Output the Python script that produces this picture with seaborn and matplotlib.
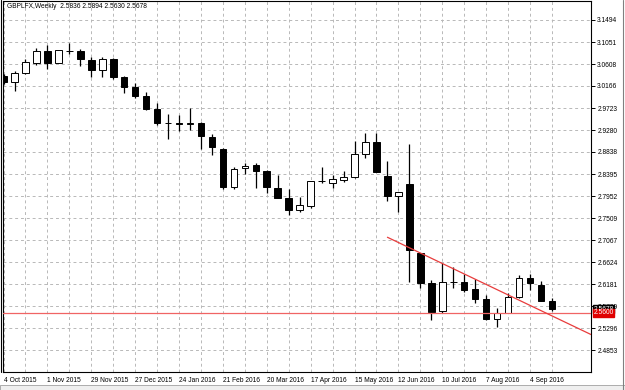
import matplotlib
matplotlib.use('Agg')
import matplotlib.pyplot as plt
import matplotlib.transforms as mtransforms
from matplotlib.patches import Rectangle
from matplotlib.lines import Line2D
import seaborn as sns
import pandas as pd
import numpy as np

symbol = 'GBPLFX,Weekly'
first_week = '2015-10-04'

opens = [3.0367, 3.0252, 3.0421, 3.0623, 3.0864, 3.0635, 3.0864, 3.0864, 3.0689, 3.0488,
         3.0703, 3.0341, 3.0152, 2.9965, 2.9703, 2.9415, 2.9415, 2.9407, 2.9415, 2.9146,
         2.8898, 2.8139, 2.8510, 2.8570, 2.8455, 2.8117, 2.7906, 2.7671, 2.7755, 2.8248,
         2.8208, 2.8274, 2.8329, 2.8791, 2.9035, 2.8361, 2.7958, 2.8188, 2.6811, 2.6196,
         2.5644, 2.6216, 2.6228, 2.6075, 2.5874, 2.5471, 2.5604, 2.5914, 2.6296, 2.6161, 2.5836]
highs = [3.0407, 3.0458, 3.0709, 3.0925, 3.0997, 3.0900, 3.1037, 3.0904, 3.0755, 3.0743,
         3.0723, 3.0373, 3.0220, 3.0035, 2.9824, 2.9598, 2.9582, 2.9729, 2.9447, 2.9200,
         2.8912, 2.8530, 2.8626, 2.8622, 2.8470, 2.8365, 2.8089, 2.7926, 2.8264, 2.8542,
         2.8375, 2.8465, 2.9059, 2.9220, 2.9220, 2.8657, 2.8027, 2.8993, 2.6811, 2.6262,
         2.6598, 2.6518, 2.6383, 2.6276, 2.5960, 2.5692, 2.5994, 2.6363, 2.6383, 2.6248, 2.5894]
lows = [3.0206, 3.0065, 3.0407, 3.0594, 3.0508, 3.0629, 3.0810, 3.0574, 3.0353, 3.0353,
        3.0307, 3.0031, 2.9930, 2.9679, 2.9381, 2.9093, 2.9254, 2.9289, 2.8902, 2.8777,
        2.8099, 2.8099, 2.8391, 2.8107, 2.8007, 2.7912, 2.7580, 2.7626, 2.7705, 2.8220,
        2.8123, 2.8224, 2.8309, 2.8723, 2.8429, 2.7852, 2.7630, 2.6212, 2.6101, 2.5457,
        2.5592, 2.6095, 2.6027, 2.5805, 2.5467, 2.5310, 2.5598, 2.5894, 2.6061, 2.5839, 2.5630]
closes = [3.0246, 3.0434, 3.0643, 3.0864, 3.0623, 3.0890, 3.0870, 3.0709, 3.0488, 3.0703,
          3.0341, 3.0152, 2.9965, 2.9709, 2.9415, 2.9421, 2.9407, 2.9415, 2.9160, 2.8932,
          2.8133, 2.8500, 2.8552, 2.8455, 2.8139, 2.7922, 2.7671, 2.7767, 2.8248, 2.8254,
          2.8288, 2.8329, 2.8791, 2.9035, 2.8441, 2.7952, 2.8023, 2.6860, 2.6208, 2.5624,
          2.6228, 2.6222, 2.6061, 2.5886, 2.5471, 2.5592, 2.5914, 2.6296, 2.6196, 2.5845, 2.5678]

price_ticks = [3.1494, 3.1051, 3.0608, 3.0166, 2.9723, 2.9280, 2.8838, 2.8395,
               2.7952, 2.7509, 2.7067, 2.6624, 2.6181, 2.5739, 2.5296, 2.4853]
level_price = 2.5600
trend_x = [35, 44]
trend_y = [2.7122, 2.6173]

weeks = pd.date_range(first_week, periods=len(opens), freq='7D')
df = pd.DataFrame({'open': opens, 'high': highs, 'low': lows, 'close': closes})
df['i'] = np.arange(len(df))
df['up'] = df['close'] >= df['open']

sns.set_style('white')
plt.rcParams['font.family'] = ['Liberation Sans', 'DejaVu Sans']
fs = 4.8

fig = plt.figure(figsize=(6.25, 3.9), dpi=100)
ax = fig.add_axes([3 / 625, 18 / 390, 588 / 625, 371 / 390])
xmax = 53.56
ax.set_xlim(-0.05, xmax)
ax.set_ylim(2.4411, 3.1876)

# candles
ax.vlines(df['i'], df['low'], df['high'], color='black', lw=0.9, zorder=2)
body = np.maximum((df['close'] - df['open']).abs(), 0.0004)
bottom = np.minimum(df['open'], df['close'])
ax.bar(df['i'], body, bottom=bottom, width=0.6,
       color=np.where(df['up'], 'white', 'black'), edgecolor='black', lw=0.7, zorder=3)

# level + trend ray
ax.axhline(level_price, color='#f06464', lw=0.9, zorder=4)
slope = (trend_y[1] - trend_y[0]) / (trend_x[1] - trend_x[0])
ray_x = [trend_x[0], xmax]
ray_y = [trend_y[0], trend_y[0] + slope * (xmax - trend_x[0])]
sns.lineplot(x=ray_x, y=ray_y, ax=ax, color='#e83c3c', lw=0.9, zorder=4)

# axes
ax.yaxis.tick_right()
ax.set_yticks(price_ticks)
ax.set_yticklabels([f'{p:.4f}' for p in price_ticks])
ax.set_xticks(range(0, len(df), 4))
ax.set_xticklabels([f'{d.day} {d.strftime("%b %Y")}' for d in weeks[::4]])
for lab in ax.get_xticklabels():
    lab.set_ha('left')
ax.set_xticks(range(2, 54, 4), minor=True)
ax.tick_params(axis='y', direction='out', length=3, width=0.7, pad=1.5, labelsize=fs, colors='black')
ax.tick_params(axis='x', which='major', direction='out', length=3, width=0.7, pad=0.8, labelsize=fs, colors='black')
ax.tick_params(axis='x', which='minor', length=0)
ax.grid(True, which='both', color='#b8b8b8', ls=(0, (3, 3)), lw=0.7, zorder=0)
ax.set_axisbelow(True)
for s in ax.spines.values():
    s.set_color('black')
    s.set_linewidth(0.8)
ax.set_xlabel('')
ax.set_ylabel('')

# price tags on the right axis
tr = mtransforms.blended_transform_factory(ax.transAxes, ax.transData)
ax.text(1.004, closes[-1], f'{closes[-1]:.4f}', transform=tr, va='center', ha='left',
        fontsize=fs, color='white', clip_on=False, zorder=6,
        bbox=dict(facecolor='black', edgecolor='black', pad=0.6))
ax.text(1.004, level_price, f'{level_price:.4f}', transform=tr, va='center', ha='left',
        fontsize=fs, color='white', clip_on=False, zorder=7,
        bbox=dict(facecolor='#e00000', edgecolor='#e00000', pad=0.6))

# header
ax.text(4 / 588, 1 - 6 / 371,
        f'{symbol}  {opens[-1]:.4f} {highs[-1]:.4f} {lows[-1]:.4f} {closes[-1]:.4f}',
        transform=ax.transAxes, va='center', ha='left', fontsize=fs, color='black')

# window frame bits
fig.add_artist(Line2D([0.5 / 625, 0.5 / 625], [18 / 390, 1], color='black', lw=0.8))
fig.add_artist(Rectangle((0, 0), 1, 5 / 390, facecolor='#efefef', edgecolor='#a0a0a0', lw=0.6))
fig.add_artist(Line2D([622.5 / 625, 622.5 / 625], [0, 1], color='#808080', lw=0.8))

fig.savefig('out.png', dpi=100)
